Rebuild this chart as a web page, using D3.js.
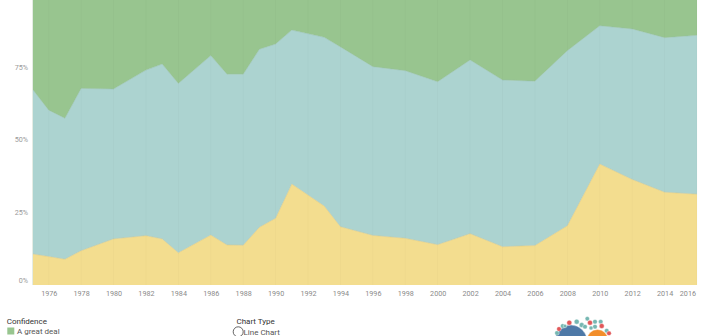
<!DOCTYPE html>
<html>
<head>
<meta charset="utf-8">
<script src="https://cdn.jsdelivr.net/npm/d3@7"></script>
<style>
  html, body { margin: 0; padding: 0; background: #fff; }
  svg { display: block; }
  text { font-family: Roboto, "Open Sans", sans-serif; }
</style>
</head>
<body>
<svg id="chart" width="702" height="336"></svg>
<script>
// ---- data ----
const years = [1975, 1976, 1977, 1978, 1980, 1982, 1983, 1984, 1986, 1987, 1988, 1989, 1990, 1991, 1993, 1994, 1996, 1998, 2000, 2002, 2004, 2006, 2008, 2010, 2012, 2014, 2016];
const hardlyAny = [10.7, 9.8, 8.9, 11.8, 15.9, 17.0, 15.9, 11.1, 17.2, 13.8, 13.7, 19.9, 23.0, 34.8, 27.2, 20.1, 17.1, 16.1, 13.9, 17.7, 13.2, 13.6, 20.4, 41.7, 36.4, 32.0, 31.3];
const onlySome  = [56.8, 50.5, 48.6, 56.0, 51.7, 57.1, 60.3, 58.4, 61.9, 58.9, 59.0, 61.4, 60.1, 53.1, 58.2, 62.0, 58.2, 57.8, 56.2, 59.9, 57.5, 56.7, 60.4, 47.7, 51.9, 53.3, 54.8];
const greatDeal = [32.5, 39.7, 42.5, 32.2, 32.4, 25.9, 23.8, 30.5, 20.9, 27.3, 27.3, 18.7, 16.9, 12.1, 14.6, 17.9, 24.7, 26.1, 29.9, 22.4, 29.3, 29.7, 19.2, 10.6, 11.7, 14.7, 13.9];
const seriesNames = ["Hardly any", "Only some", "A great deal"];
const seriesColors = ["#f3dd8f", "#acd3d0", "#98c58f"];
const xTicks = [1976, 1978, 1980, 1982, 1984, 1986, 1988, 1990, 1992, 1994, 1996, 1998, 2000, 2002, 2004, 2006, 2008, 2010, 2012, 2014, 2016];
const yTicks = [0, 25, 50, 75, 100];
const legendTitle = "Confidence";
const legendItems = ["A great deal"];
const chartTypeTitle = "Chart Type";
const chartTypeItems = ["Line Chart"];

// decorative logo bubbles (not data)
const logoBubbles = [
  {x: 571, y: 341, r: 16, c: "#4e79a7"}, {x: 597.5, y: 340, r: 10.5, c: "#f28e2b"},
  {x: 557, y: 333, r: 2.3, c: "#76b7b2"}, {x: 559, y: 329, r: 2.3, c: "#e15759"},
  {x: 562.7, y: 326, r: 2.3, c: "#76b7b2"}, {x: 569.3, y: 322.7, r: 2.5, c: "#e15759"},
  {x: 576.7, y: 321.7, r: 2.5, c: "#76b7b2"}, {x: 581.7, y: 325, r: 2.5, c: "#76b7b2"},
  {x: 587.3, y: 318.7, r: 2.2, c: "#76b7b2"}, {x: 590, y: 322.7, r: 2.5, c: "#e15759"},
  {x: 595, y: 321.7, r: 2.3, c: "#76b7b2"}, {x: 600.7, y: 321.7, r: 2.3, c: "#76b7b2"},
  {x: 601.7, y: 326, r: 2.5, c: "#e15759"}, {x: 595, y: 326.7, r: 2.3, c: "#76b7b2"},
  {x: 585, y: 326.7, r: 2.3, c: "#76b7b2"}, {x: 606.7, y: 330.7, r: 2.3, c: "#76b7b2"},
  {x: 609, y: 333.3, r: 2.3, c: "#e15759"}, {x: 565, y: 326, r: 1.8, c: "#76b7b2"},
  {x: 591, y: 328, r: 2, c: "#76b7b2"}
];

// ---- build ----
const svg = d3.select("#chart");
const plotLeft = 32.5, plotRight = 697, plotBottom = 285;
const x = d3.scaleLinear().domain([1975, 2016]).range([plotLeft, plotRight]);
const y = d3.scaleLinear().domain([0, 100]).range([plotBottom, -5]);

const table = years.map((yr, i) => ({year: yr, "Hardly any": hardlyAny[i], "Only some": onlySome[i], "A great deal": greatDeal[i]}));
const stacked = d3.stack().keys(seriesNames)(table);

const area = d3.area()
  .x(d => x(d.data.year))
  .y0(d => y(d[0]))
  .y1(d => y(d[1]));

svg.append("g").selectAll("path")
  .data(stacked)
  .join("path")
  .attr("d", area)
  .attr("fill", (d, i) => seriesColors[i]);

// boundary lines
const line = d3.line().x(d => x(d.data.year)).y(d => y(d[1]));
const lineColors = ["#d9c37c", "#8fbcab"];
svg.append("g").selectAll("path")
  .data(stacked.slice(0, 2))
  .join("path")
  .attr("d", line)
  .attr("fill", "none")
  .attr("stroke", (d, i) => lineColors[i])
  .attr("stroke-width", 0.8)
  .attr("stroke-opacity", 0.6);

// vertical gridlines
svg.append("g").selectAll("line")
  .data(xTicks)
  .join("line")
  .attr("x1", d => x(d)).attr("x2", d => x(d))
  .attr("y1", 0).attr("y2", plotBottom)
  .attr("stroke", "#000").attr("stroke-opacity", 0.018).attr("stroke-width", 1);

// left edge line
svg.append("line")
  .attr("x1", plotLeft).attr("x2", plotLeft).attr("y1", 0).attr("y2", plotBottom)
  .attr("stroke", "#e4ece4").attr("stroke-width", 1);

// x axis
const xAxis = d3.axisBottom(x).tickValues(xTicks).tickSize(0).tickPadding(0).tickFormat(d3.format("d"));
const gx = svg.append("g").attr("transform", `translate(0, ${plotBottom + 5.5})`).call(xAxis);
gx.select(".domain").remove();
gx.selectAll("text")
  .attr("font-size", 7.2)
  .attr("fill", "#8a8a8a")
  .attr("font-family", "Roboto, sans-serif")
  .attr("text-anchor", d => d === 2016 ? "end" : "middle")
  .attr("dx", d => d === 2016 ? -1.5 : 0);

// y axis
const yAxis = d3.axisLeft(y).tickValues(yTicks).tickSize(0).tickPadding(4.5).tickFormat(d => d + "%");
const gy = svg.append("g").attr("transform", `translate(${plotLeft}, 0)`).call(yAxis);
gy.select(".domain").remove();
gy.selectAll(".tick")
  .attr("transform", d => `translate(0, ${Math.min(y(d), 281)})`);
gy.selectAll("text")
  .attr("font-size", 7.2)
  .attr("fill", "#9a9a9a")
  .attr("font-family", "Roboto, sans-serif");

// legend
const lg = svg.append("g");
lg.append("text").text(legendTitle)
  .attr("x", 6.7).attr("y", 324)
  .attr("font-size", 8).attr("fill", "#333");
lg.selectAll("rect.sw").data(legendItems).join("rect")
  .attr("class", "sw")
  .attr("x", 7.3).attr("y", (d, i) => 327.5 + i * 10)
  .attr("width", 7).attr("height", 7)
  .attr("fill", seriesColors[2]);
lg.selectAll("text.it").data(legendItems).join("text")
  .attr("class", "it")
  .attr("x", 17).attr("y", (d, i) => 334 + i * 10)
  .attr("font-size", 8).attr("fill", "#555")
  .text(d => d);

const ct = svg.append("g");
ct.append("text").text(chartTypeTitle)
  .attr("x", 236.5).attr("y", 324)
  .attr("font-size", 8).attr("fill", "#333");
ct.selectAll("circle").data(chartTypeItems).join("circle")
  .attr("cx", 238.2).attr("cy", (d, i) => 331.8 + i * 10).attr("r", 5)
  .attr("fill", "#fff").attr("stroke", "#555").attr("stroke-width", 0.9);
ct.selectAll("text.it").data(chartTypeItems).join("text")
  .attr("class", "it")
  .attr("x", 243.5).attr("y", (d, i) => 334.5 + i * 10)
  .attr("font-size", 8).attr("fill", "#555")
  .text(d => d);

// logo
svg.append("g").selectAll("circle").data(logoBubbles).join("circle")
  .attr("cx", d => d.x).attr("cy", d => d.y).attr("r", d => d.r)
  .attr("fill", d => d.c).attr("stroke", "#fff").attr("stroke-width", 0.4);
</script>
</body>
</html>
